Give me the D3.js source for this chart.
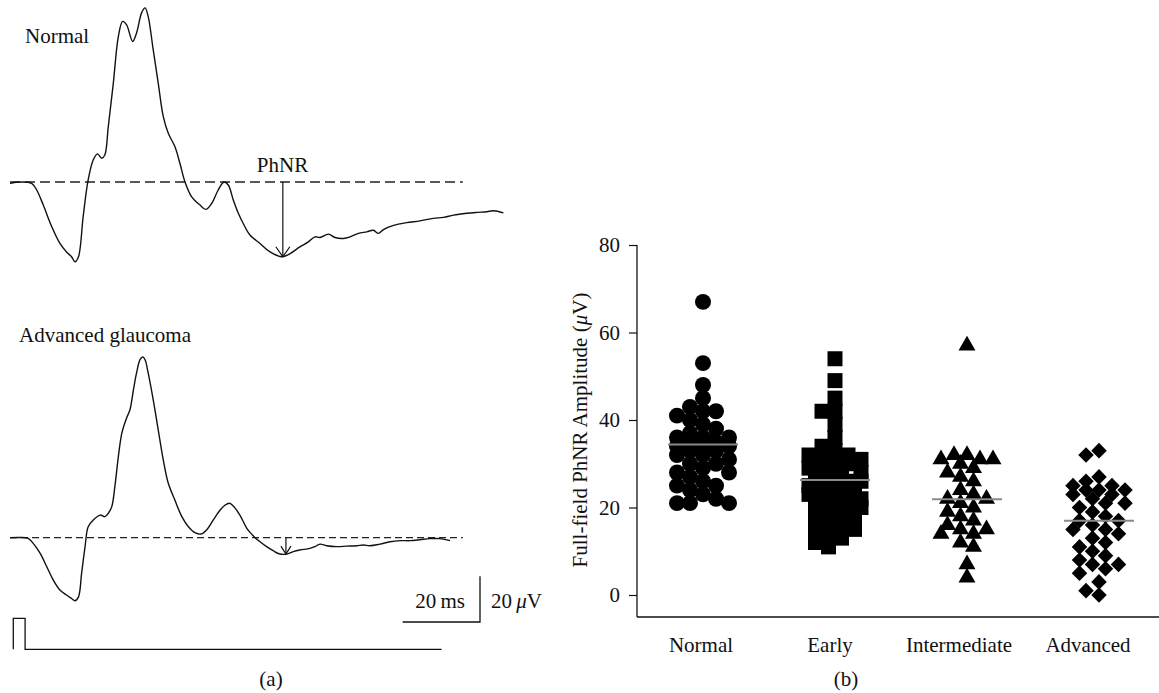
<!DOCTYPE html>
<html><head><meta charset="utf-8">
<script src="https://cdn.jsdelivr.net/npm/d3@7"></script>
<style>
html,body{margin:0;padding:0;background:#fff;}
svg text{font-family:"Liberation Serif","DejaVu Serif",serif;fill:#111;}
</style></head>
<body><svg id="c" width="1159" height="693"></svg>
<script>
// ---------- DATA ----------
// Panel (a): ERG waveforms, [time ms, amplitude µV]
const normalWave = [[0,-0.6],[2.6,0],[5.6,-0.6],[6.9,-3.5],[8.6,-10.1],[10.8,-19.6],[12.9,-26.9],[14.6,-30.6],[15.9,-32.7],[16.8,-34.9],[17.7,-32.7],[18.9,-15.2],[20.2,0.9],[21.5,9.6],[22.6,12.3],[23.7,10.4],[24.5,11.8],[25.4,24.3],[26.7,43.3],[28.0,63.7],[29.1,70.3],[30.1,68.9],[31.7,61.5],[32.7,65.2],[34.0,74.0],[34.9,76.2],[35.7,72.5],[37.0,57.9],[38.3,43.3],[39.6,28.7],[40.9,21.3],[42.6,15.5],[43.9,8.2],[45.2,0.1],[46.9,-6.4],[49.1,-10.1],[50.6,-12.0],[52.1,-9.4],[53.8,-3.5],[55.3,0],[56.4,-1.3],[57.7,-7.9],[59.0,-13.7],[60.7,-19.6],[62.0,-23.2],[64.6,-26.9],[67.2,-30.6],[70.2,-32.7],[72.4,-31.3],[74.9,-28.4],[77.1,-26.2],[78.8,-24.0],[80.1,-24.3],[82.3,-22.8],[84.0,-24.3],[86.1,-24.7],[87.9,-24.0],[90.0,-22.5],[92.2,-21.8],[93.9,-21.1],[95.2,-22.5],[96.5,-20.8],[99.1,-19.0],[102.5,-17.8],[105.9,-17.0],[109.4,-15.9],[112.0,-15.5],[114.6,-14.5],[118.0,-13.7],[120.6,-13.3],[123.2,-13.0],[124.9,-12.6],[127.5,-13.5]];
const advancedWave = [[0,0],[2.6,0.1],[4.7,-0.3],[6.0,-2.5],[7.8,-6.9],[9.5,-12.7],[11.2,-18.6],[12.9,-22.9],[14.6,-25.1],[15.9,-26.6],[16.8,-27.6],[17.7,-25.9],[18.5,-15.6],[19.4,-3.9],[20.2,4.8],[21.5,7.7],[23.3,9.9],[24.5,9.2],[25.4,10.7],[26.3,13.6],[27.1,22.4],[28.0,35.5],[28.9,45.8],[30.1,52.3],[31.0,56.0],[31.9,64.8],[32.7,72.1],[33.6,77.9],[34.3,79.1],[34.9,77.9],[35.7,72.1],[37.0,60.4],[38.3,47.2],[39.6,34.1],[40.9,23.8],[42.6,16.5],[44.4,9.2],[46.1,4.8],[47.8,2.2],[49.4,1.6],[50.8,3.4],[52.5,7.7],[54.3,12.1],[55.6,14.3],[56.7,15.1],[57.7,13.9],[59.4,9.9],[61.2,4.1],[62.9,0.7],[64.6,-1.8],[66.3,-3.9],[68.0,-5.7],[69.3,-6.9],[71.5,-7.2],[73.2,-6.1],[74.9,-5.4],[77.5,-4.7],[78.8,-3.9],[80.1,-2.8],[81.8,-3.5],[84.4,-3.9],[87.0,-3.7],[89.6,-3.5],[91.3,-3.2],[93.0,-3.5],[95.6,-2.8],[98.2,-1.8],[100.8,-1.3],[103.4,-1.3],[105.9,-0.9],[108.5,-0.4],[111.1,-0.4],[113.7,-1.3]];
const baselineSpan = [0, 117];            // ms, dashed baseline extent
const phnrNormal = [70.5, -32.7];          // [ms, µV] PhNR trough
const phnrAdvanced = [71.3, -7.2];
const stimTime = [0.85, 0.85, 3.9, 3.9, 111.5];
const stimLevel = [0, 1, 1, 0, 0];
const scaleBarMs = 20, scaleBarUv = 20;

// Panel (b): full-field PhNR amplitude (µV)
const groups = ["Normal", "Early", "Intermediate", "Advanced"];
const normalVals = [67,53,48,45,43,42,42,41,40,39,38,37,36,36,36,35,35,35,35,34,34,34,33,33,32,32,31,30,30,29,28,28,27,26,25,25,24,23,22,21,21,21];
const earlyVals = [54,49,45,42,42,39,36,34,33,32,32,31,31,30,30,29,29,28,28,28,27,27,26,26,26,25,25,24,24,23,23,22,22,21,21,21,20,20,19,18,18,17,16,15,15,14,13,12,11];
const intermediateVals = [57,32,32,31,31,31,30,29,28,27,26,24,23,22,22,21,20,19,18,17,16,15,15,14,14,12,11,7,4];
const advancedVals = [33,32,27,26,25,25,24,24,24,23,23,22,21,21,20,19,18,17,17,16,15,15,14,13,12,11,10,9,8,7,7,6,5,3,1,0];
const groupMeans = [34.4, 26.3, 21.9, 17.0];
const yTicks = [0, 20, 40, 60, 80];

// ---------- DRAW ----------
const svg = d3.select("#c");
svg.append("rect").attr("width",1159).attr("height",693).attr("fill","#fff");
const FS = 21;

// ---- Panel (a)
const xT = d3.scaleLinear().domain([0, 100]).range([10, 397]);
const yN = d3.scaleLinear().domain([0, 20]).range([182, 136.3]);
const yA = d3.scaleLinear().domain([0, 20]).range([537.7, 492]);
const yS = d3.scaleLinear().domain([0, 1]).range([649.3, 618.3]);

function drawTrace(data, y, dash, phnr, head) {
  svg.append("line")
    .attr("x1", xT(baselineSpan[0])).attr("x2", xT(baselineSpan[1]))
    .attr("y1", y(0)).attr("y2", y(0))
    .attr("stroke","#222").attr("stroke-width",1.3).attr("stroke-dasharray",dash);
  svg.append("path").datum(data)
    .attr("d", d3.line().x(d=>xT(d[0])).y(d=>y(d[1])).curve(d3.curveCatmullRom.alpha(0.5)))
    .attr("fill","none").attr("stroke","#111").attr("stroke-width",1.4);
  const ax = xT(phnr[0]), ay = y(phnr[1]);
  svg.append("line").attr("x1",ax).attr("x2",ax).attr("y1",y(0)).attr("y2",ay)
    .attr("stroke","#111").attr("stroke-width",1.2);
  svg.append("path").attr("d",`M${ax-head[0]},${ay-head[1]}L${ax},${ay}L${ax+head[0]},${ay-head[1]}`)
    .attr("fill","none").attr("stroke","#111").attr("stroke-width",1.2);
}
drawTrace(normalWave, yN, "10,5", phnrNormal, [7, 10]);
drawTrace(advancedWave, yA, "7,4", phnrAdvanced, [5, 8]);

svg.append("text").attr("x",25).attr("y",43).attr("font-size",FS).text("Normal");
svg.append("text").attr("x",282.5).attr("y",172).attr("font-size",FS).attr("text-anchor","middle").text("PhNR");
svg.append("text").attr("x",19).attr("y",342).attr("font-size",FS).text("Advanced glaucoma");

// stimulus
svg.append("path").datum(d3.zip(stimTime, stimLevel))
  .attr("d", d3.line().x(d=>xT(d[0])).y(d=>yS(d[1])))
  .attr("fill","none").attr("stroke","#111").attr("stroke-width",1.3);

// scale bars
const sbX = 480, sbY = 622;
const sbW = xT(scaleBarMs) - xT(0), sbH = yA(0) - yA(scaleBarUv);
svg.append("path").attr("d",`M${sbX-sbW},${sbY}H${sbX}V${sbY-sbH}`)
  .attr("fill","none").attr("stroke","#111").attr("stroke-width",1.3);
svg.append("text").attr("x",sbX-15).attr("y",608).attr("font-size",FS).attr("text-anchor","end").text("20\u2009ms");
const uvT = svg.append("text").attr("x",sbX+11).attr("y",608).attr("font-size",FS);
uvT.append("tspan").text("20\u2009");
uvT.append("tspan").attr("font-style","italic").text("\u03bc");
uvT.append("tspan").text("V");
svg.append("text").attr("x",271).attr("y",686).attr("font-size",FS).attr("text-anchor","middle").text("(a)");

// ---- Panel (b)
const y = d3.scaleLinear().domain([0, 80]).range([595, 245]);
const x = d3.scalePoint().domain(groups).range([637, 1165]).padding(0.5);
const xLab = d3.scalePoint().domain(groups).range([636, 1152]).padding(0.5);
const axisY = 617, axisX = 637;

const gy = svg.append("g").attr("transform",`translate(${axisX},0)`)
  .call(d3.axisLeft(y).tickValues(yTicks).tickSize(8).tickPadding(9).tickSizeOuter(0));
gy.select(".domain").remove();
gy.selectAll(".tick line").attr("stroke","#111").attr("stroke-width",1.2);
gy.selectAll(".tick text").attr("font-size",FS).attr("font-family","Liberation Serif, serif").attr("fill","#111");
svg.append("line").attr("x1",axisX).attr("x2",axisX).attr("y1",y(80)).attr("y2",axisY)
  .attr("stroke","#111").attr("stroke-width",1.3);

const gx = svg.append("g").attr("transform",`translate(0,${axisY})`)
  .call(d3.axisBottom(xLab).tickSize(0).tickPadding(20));
gx.select(".domain").remove();
gx.selectAll(".tick text").attr("font-size",FS).attr("font-family","Liberation Serif, serif").attr("fill","#111");
svg.append("line").attr("x1",axisX).attr("x2",1159).attr("y1",axisY).attr("y2",axisY)
  .attr("stroke","#111").attr("stroke-width",1.5);

const yt = svg.append("text").attr("transform",`translate(587,${(245+595)/2+10}) rotate(-90)`)
  .attr("text-anchor","middle").attr("font-size",FS);
yt.append("tspan").text("Full-field PhNR Amplitude (");
yt.append("tspan").attr("font-style","italic").text("\u03bc");
yt.append("tspan").text("V)");

svg.append("text").attr("x",846).attr("y",686).attr("font-size",FS).attr("text-anchor","middle").text("(b)");

function dodge(vals, step, minDist, maxOff) {
  const order = d3.range(vals.length).sort((a,b)=>vals[b]-vals[a]);
  const cands = [0];
  for (let k=1; k*step<=maxOff; k++) cands.push(-k*step, k*step);
  const placed = [], offs = new Array(vals.length);
  for (const i of order) {
    const py = y(vals[i]);
    let chosen = null, bestC = 0, bestS = -1;
    for (const c of cands) {
      let md = Infinity;
      for (const p of placed) md = Math.min(md, Math.hypot(c-p.x, py-p.y));
      if (md >= minDist) { chosen = c; break; }
      if (md > bestS) { bestS = md; bestC = c; }
    }
    offs[i] = chosen === null ? bestC : chosen;
    placed.push({x: offs[i], y: py});
  }
  return offs;
}

const series = [
  {vals: normalVals, sym: d3.symbolCircle, size: 201, rot: 0},
  {vals: earlyVals, sym: d3.symbolSquare, size: 225, rot: 0},
  {vals: intermediateVals, sym: d3.symbolTriangle, size: 125, rot: 0},
  {vals: advancedVals, sym: d3.symbolSquare, size: 121, rot: 45}
];
series.forEach((s, gi) => {
  const cx = x(groups[gi]);
  const offs = dodge(s.vals, 6.5, 11, 26);
  svg.append("g").selectAll("path").data(s.vals).join("path")
    .attr("d", d3.symbol().type(s.sym).size(s.size))
    .attr("transform", (v,i)=>`translate(${cx+offs[i]},${y(v)}) rotate(${s.rot})`)
    .attr("fill","#000");
});
svg.append("g").selectAll("line").data(groupMeans).join("line")
  .attr("x1",(m,i)=>x(groups[i])-35).attr("x2",(m,i)=>x(groups[i])+35)
  .attr("y1",m=>y(m)).attr("y2",m=>y(m))
  .attr("stroke","#8a8a8a").attr("stroke-width",2);
</script></body></html>
